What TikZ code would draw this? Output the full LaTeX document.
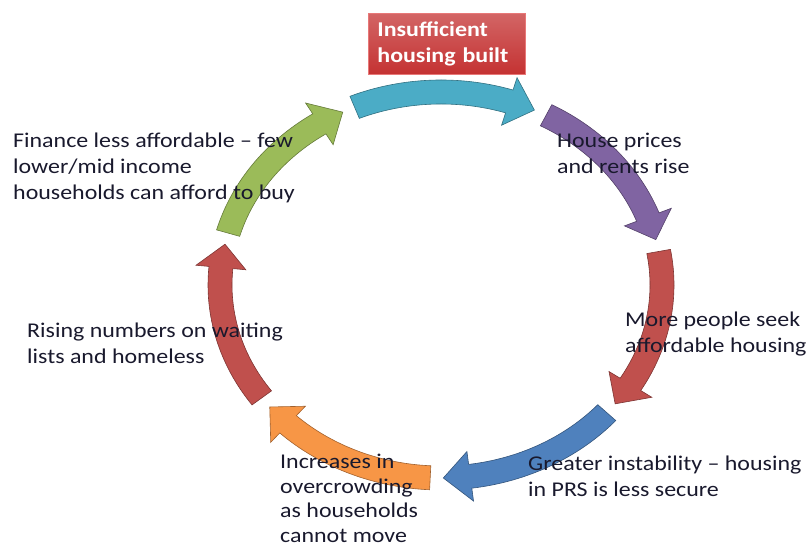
\documentclass[tikz,border=0pt]{standalone}
\usepackage{fontspec}
\setmainfont{Carlito}[FakeStretch=1.14]
\definecolor{cyanA}{RGB}{75,172,198}
\definecolor{purpleA}{RGB}{128,100,162}
\definecolor{redA}{RGB}{192,80,77}
\definecolor{blueA}{RGB}{79,129,189}
\definecolor{orangeA}{RGB}{247,150,70}
\definecolor{greenA}{RGB}{155,187,89}
\definecolor{boxred}{RGB}{196,50,50}
\definecolor{boxedge}{RGB}{232,120,120}
\definecolor{txt}{RGB}{25,25,45}
% #1 start angle, #2 tip angle, #3 colour
\newcommand\cycarrow[3]{%
  \pgfmathsetmacro\hb{#2+7}%
  \fill[#3, draw=#3!65!black, line width=0.6pt]
    (#1:233pt and 205pt) arc[start angle=#1, end angle=\hb, x radius=233pt, y radius=205pt]
    -- (\hb:246pt and 218pt) -- (#2:221pt and 193pt) -- (\hb:196pt and 168pt)
    -- (\hb:209pt and 181pt) arc[start angle=\hb, end angle=#1, x radius=209pt, y radius=181pt]
    -- cycle;}
\begin{document}
\begin{tikzpicture}[x=1pt,y=1pt,
  lbl/.style={font=\fontsize{21}{26}\selectfont, text=txt, align=left, inner sep=0pt, anchor=north west},
  topbox/.style={anchor=north west, minimum width=157pt, minimum height=61pt, text width=139pt,
    inner xsep=9pt, inner ysep=0pt, align=left, top color=boxred!75!white, bottom color=boxred,
    draw=boxedge, line width=0.8pt, text=white, font=\fontsize{21}{26}\selectfont\bfseries}]
\useasboundingbox (0,0) rectangle (811,551);
\begin{scope}[shift={(441,266)}]
  \cycarrow{113}{65}{cyanA}
  \cycarrow{61.6}{13.6}{purpleA}
  \cycarrow{10}{-38}{redA}
  \cycarrow{-41.4}{-89.4}{blueA}
  \cycarrow{-92.8}{-140.8}{orangeA}
  \cycarrow{-144.2}{-192.2}{redA}
  \cycarrow{-195.6}{-243.6}{greenA}
\end{scope}
\node[topbox] (top) at (368,538) {Insufficient\\housing built};
\node[lbl] (prices) at (557,418) {House prices\\and rents rise};
\node[lbl] (seek) at (625,239) {More people seek\\affordable housing};
\node[lbl] (instab) at (528,95) {Greater instability -- housing\\in PRS is less secure};
\node[lbl, font=\fontsize{21}{24.5}\selectfont] (crowd) at (280,97) {Increases in\\overcrowding\\as households\\cannot move};
\node[lbl] (wait) at (27,228) {Rising numbers on waiting\\lists and homeless};
\node[lbl] (finance) at (13,418) {Finance less affordable -- few\\lower/mid income\\households can afford to buy};
\end{tikzpicture}
\end{document}
